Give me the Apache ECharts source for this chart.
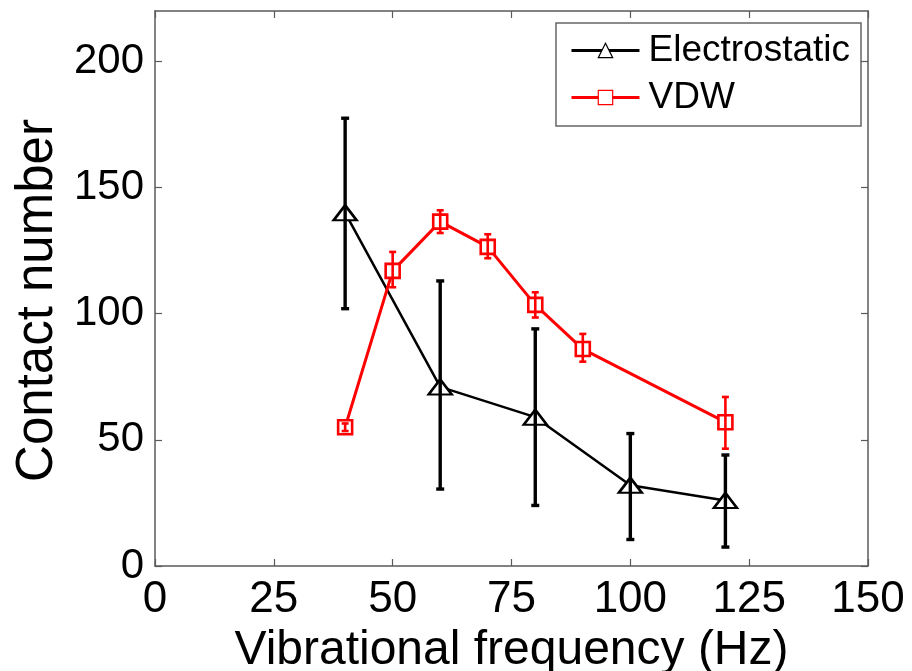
<!DOCTYPE html>
<html>
<head>
<meta charset="utf-8">
<script src="https://cdn.jsdelivr.net/npm/echarts@6/dist/echarts.min.js"></script>
<style>html,body{margin:0;padding:0;background:#fff}#c{width:912px;height:671px}</style>
</head>
<body>
<div id="c"></div>
<script>
// ---- data ----
const freqElec = [40, 60, 80, 100, 120];
const elecMean = [140, 71, 59, 32, 26];
const elecLow  = [102, 30.5, 24, 10.5, 7.5];
const elecHigh = [177.5, 113, 94, 52.5, 44];

const freqVdw = [40, 50, 60, 70, 80, 90, 120];
const vdwMean = [55, 117, 136.5, 126.5, 103.5, 86, 57];
const vdwLow  = [53.5, 110.5, 132, 122, 98.5, 81, 46.5];
const vdwHigh = [56.5, 124.5, 141, 131.5, 108.5, 92, 67];

const xTicks = [0, 25, 50, 75, 100, 125, 150];
const yTicks = [0, 50, 100, 150, 200];

// ---- chart ----
const FONT = '"Liberation Sans", Arial, sans-serif';
const AX = '#5a5a5a';
const chart = echarts.init(document.getElementById('c'), null, {renderer: 'canvas'});

function errSeries(name, xs, lo, hi, color, width, cap) {
  return {
    type: 'custom', name: name, silent: true, z: 4,
    data: xs.map((x, i) => [x, lo[i], hi[i]]),
    encode: {x: 0, y: [1, 2]},
    renderItem: function (params, api) {
      const x = api.value(0);
      const p1 = api.coord([x, api.value(1)]);
      const p2 = api.coord([x, api.value(2)]);
      const st = {stroke: color, lineWidth: width, fill: null};
      return {type: 'group', children: [
        {type: 'line', shape: {x1: p1[0], y1: p1[1], x2: p2[0], y2: p2[1]}, style: st},
        {type: 'line', shape: {x1: p1[0] - cap, y1: p1[1], x2: p1[0] + cap, y2: p1[1]}, style: st},
        {type: 'line', shape: {x1: p2[0] - cap, y1: p2[1], x2: p2[0] + cap, y2: p2[1]}, style: st}
      ]};
    }
  };
}

const axisCommon = {
  axisLine: {show: true, onZero: false, lineStyle: {color: AX, width: 1.5}},
  axisTick: {show: true, inside: true, length: 7, lineStyle: {color: AX, width: 1.2}},
  splitLine: {show: false}
};

const option = {
  backgroundColor: '#ffffff',
  animation: false,
  grid: {left: 155, right: 44, top: 11, bottom: 105, containLabel: false, outerBoundsMode: 'none'},
  legend: {
    data: ['Electrostatic', 'VDW'],
    orient: 'vertical',
    right: 51, top: 23,
    padding: [9, 11, 10, 14],
    itemWidth: 68, itemHeight: 18, itemGap: 10,
    borderColor: '#666', borderWidth: 1.5, backgroundColor: '#fff',
    lineStyle: {width: 3},
    itemStyle: {borderWidth: 1.2},
    textStyle: {fontFamily: FONT, fontSize: 37, color: '#000', padding: [0, 0, 0, 4]},
    selectedMode: false
  },
  xAxis: [
    Object.assign({}, axisCommon, {
      type: 'value', min: 0, max: 150, interval: 25, position: 'bottom',
      name: 'Vibrational frequency (Hz)', nameLocation: 'middle', nameGap: 57,
      nameTextStyle: {fontFamily: FONT, fontSize: 48, color: '#000'},
      axisLabel: {show: true, margin: 12, fontFamily: FONT, fontSize: 44, color: '#000', customValues: xTicks},
      axisTick: Object.assign({}, axisCommon.axisTick, {customValues: xTicks})
    }),
    Object.assign({}, axisCommon, {
      type: 'value', min: 0, max: 150, interval: 25, position: 'top',
      axisLabel: {show: false},
      axisTick: Object.assign({}, axisCommon.axisTick, {customValues: xTicks})
    })
  ],
  yAxis: [
    Object.assign({}, axisCommon, {
      type: 'value', min: 0, max: 220, interval: 50, position: 'left',
      name: 'Contact number', nameLocation: 'middle', nameGap: 92, nameRotate: 90,
      nameTextStyle: {fontFamily: FONT, fontSize: 51, color: '#000', padding: [0, 24, 0, 0]},
      axisLabel: {show: true, margin: 11, fontFamily: FONT, fontSize: 42, color: '#000', customValues: yTicks},
      axisTick: Object.assign({}, axisCommon.axisTick, {customValues: yTicks})
    }),
    Object.assign({}, axisCommon, {
      type: 'value', min: 0, max: 220, interval: 50, position: 'right',
      axisLabel: {show: false},
      axisTick: Object.assign({}, axisCommon.axisTick, {customValues: yTicks})
    })
  ],
  series: [
    {
      name: 'Electrostatic', type: 'line', z: 3,
      data: freqElec.map((x, i) => [x, elecMean[i]]),
      symbol: 'triangle', symbolSize: [23, 15],
      lineStyle: {color: '#000', width: 2.5},
      itemStyle: {color: '#fff', borderColor: '#000', borderWidth: 2.5}
    },
    {
      name: 'VDW', type: 'line', z: 3,
      data: freqVdw.map((x, i) => [x, vdwMean[i]]),
      symbol: 'rect', symbolSize: 14,
      lineStyle: {color: '#ff0000', width: 3},
      itemStyle: {color: '#fff', borderColor: '#ff0000', borderWidth: 2.6}
    },
    errSeries('Electrostatic error', freqElec, elecLow, elecHigh, '#000', 3.4, 4),
    errSeries('VDW error', freqVdw, vdwLow, vdwHigh, '#ff0000', 2.6, 3.5)
  ]
};
chart.setOption(option);
</script>
</body>
</html>
